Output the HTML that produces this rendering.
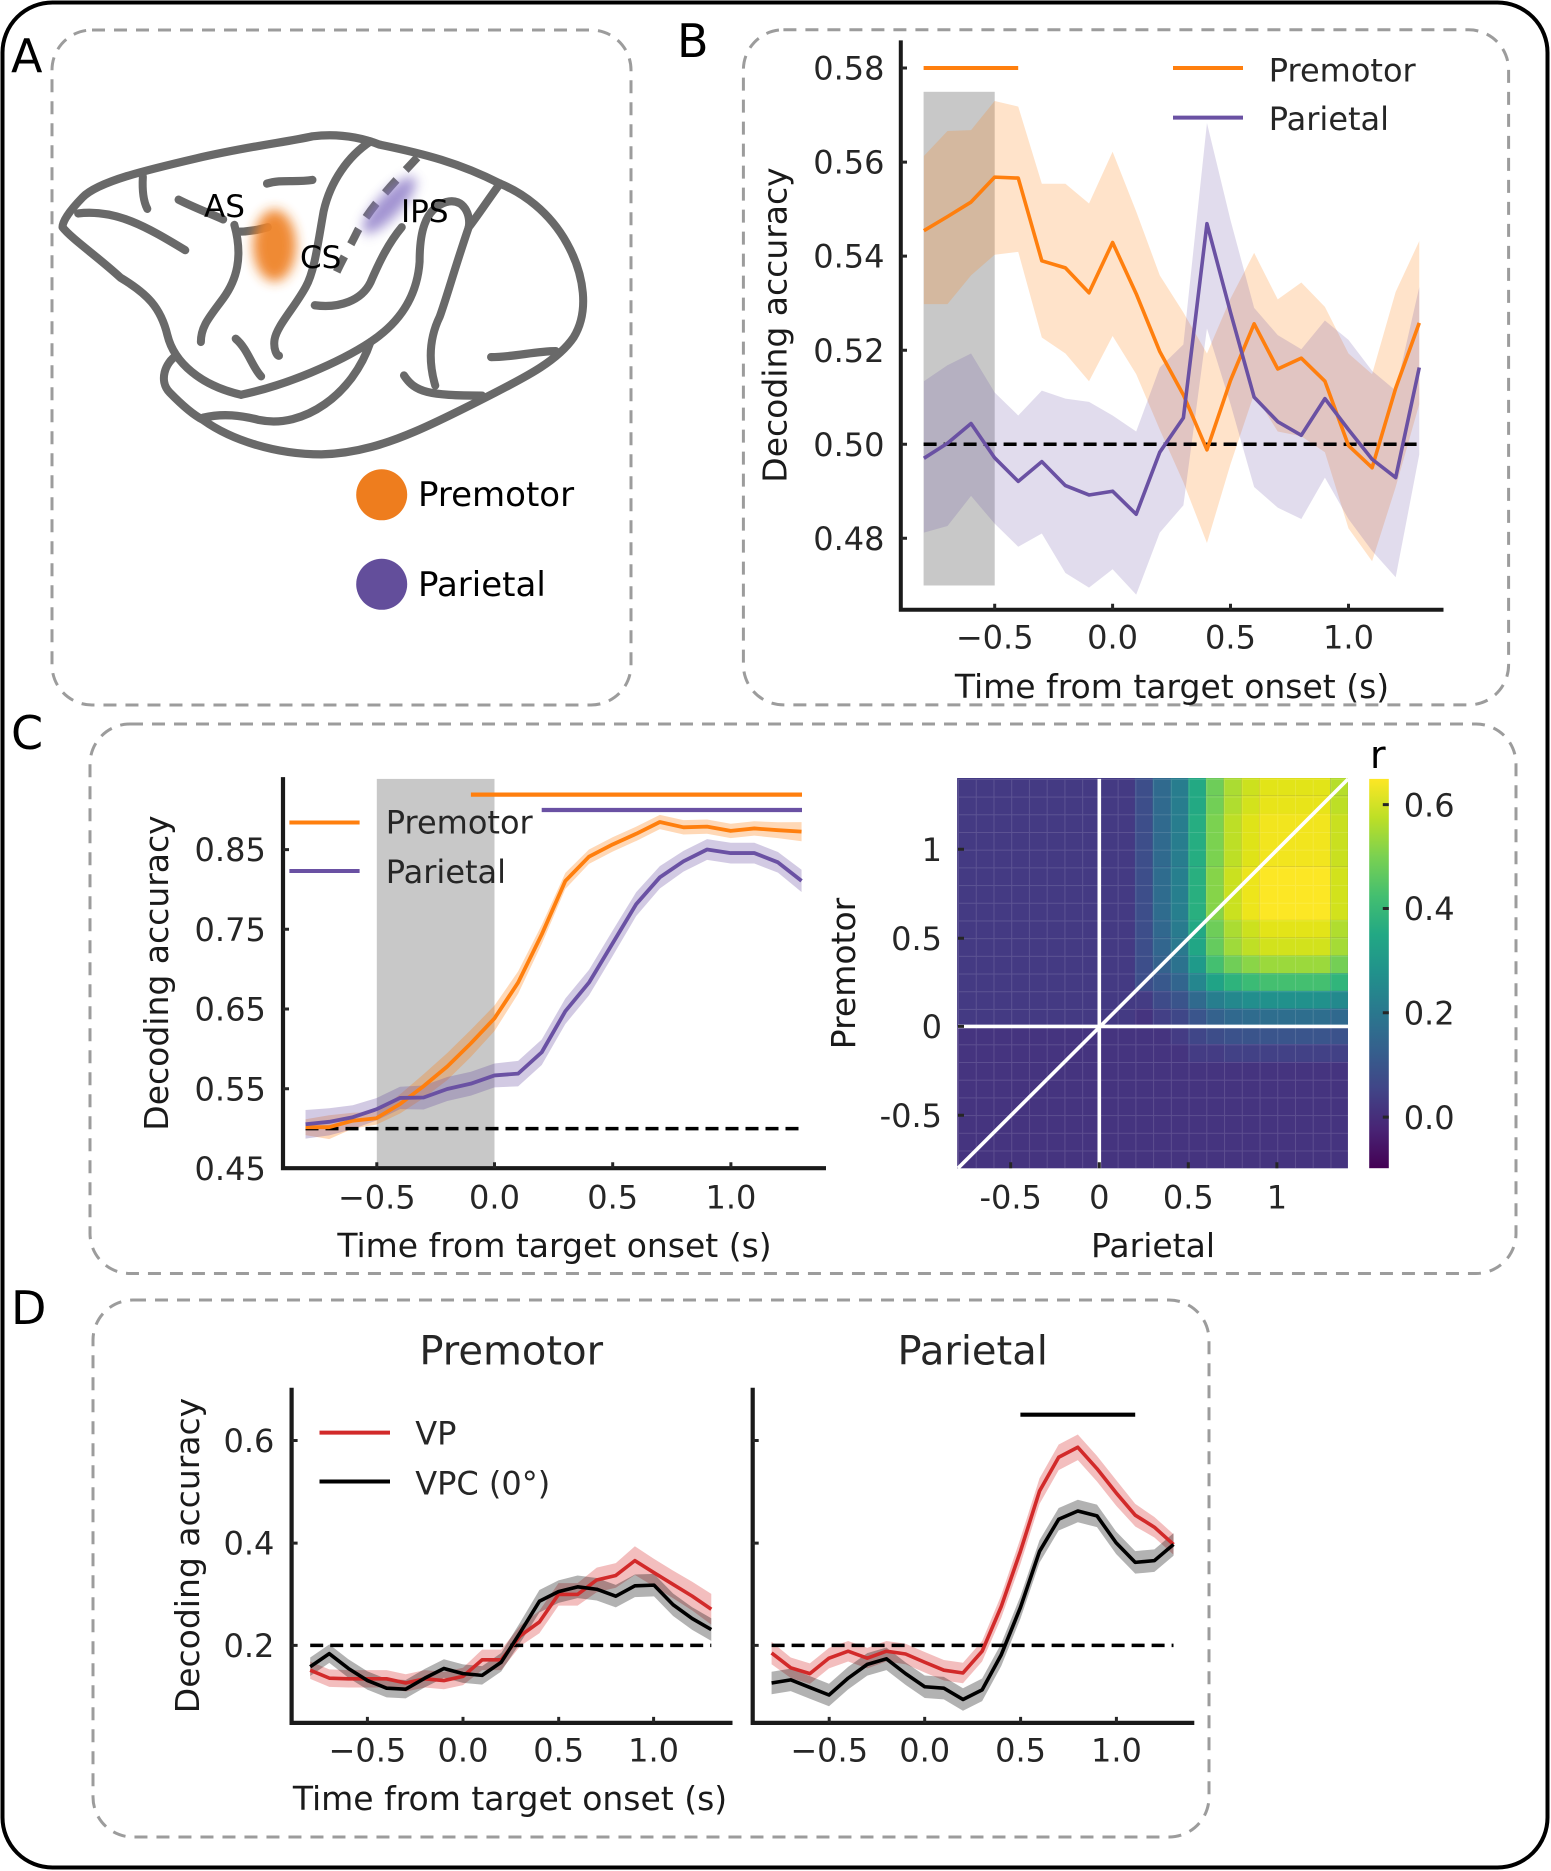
<!DOCTYPE html>
<html><head><meta charset="utf-8">
<style>
html,body{margin:0;padding:0;background:#fff;}
body{width:1551px;height:1871px;overflow:hidden;}
svg{display:block;}
text{font-family:"DejaVu Sans","Liberation Sans",sans-serif;}
.t{fill:#262626;font-size:32px;}
.lab{fill:#1a1a1a;font-size:33px;}
</style></head><body>
<svg width="1551" height="1871" viewBox="0 0 1551 1871" xmlns="http://www.w3.org/2000/svg">
<defs>
<filter id="blur" x="-60%" y="-60%" width="220%" height="220%"><feGaussianBlur stdDeviation="13"/></filter>
<linearGradient id="vir" x1="0" y1="1" x2="0" y2="0">
<stop offset="0" stop-color="#440154"/><stop offset="0.1" stop-color="#482475"/><stop offset="0.2" stop-color="#414487"/><stop offset="0.3" stop-color="#355f8d"/><stop offset="0.4" stop-color="#2a788e"/><stop offset="0.5" stop-color="#21918c"/><stop offset="0.6" stop-color="#22a884"/><stop offset="0.7" stop-color="#44bf70"/><stop offset="0.8" stop-color="#7ad151"/><stop offset="0.9" stop-color="#bddf26"/><stop offset="1" stop-color="#fde725"/>
</linearGradient>
<pattern id="grid" x="958" y="778.9" width="17.736" height="17.695" patternUnits="userSpaceOnUse"><path d="M0.5,0 V17.7 M0,0.5 H17.8" stroke="#ffffff" stroke-opacity="0.13" stroke-width="1"/></pattern>
</defs>

<!-- outer border -->
<rect x="2.5" y="2.5" width="1545" height="1865" rx="50" ry="50" fill="none" stroke="#000" stroke-width="4"/>

<!-- dashed panel boxes -->
<g fill="none" stroke="#9c9c9c" stroke-width="3" stroke-dasharray="13 9">
<rect x="52" y="30" width="579" height="675" rx="40" ry="40"/>
<rect x="743.4" y="29.8" width="765.2" height="675.1" rx="40" ry="40"/>
<rect x="90" y="724" width="1426" height="549.5" rx="40" ry="40"/>
<rect x="93" y="1300" width="1116" height="537" rx="40" ry="40"/>
</g>

<!-- panel letters -->
<g font-size="46" fill="#000">
<text x="11" y="72">A</text>
<text x="677" y="57">B</text>
<text x="11" y="749">C</text>
<text x="11" y="1324">D</text>
</g>

<!-- ============ PANEL A: brain ============ -->
<g transform="scale(0.4464,0.459)">
<g fill="none" stroke="#696969" stroke-width="18" stroke-linecap="round" stroke-linejoin="round">
<path d="M1120,400 C1030,355 950,335 850,315 C810,300 760,290 700,297 C640,310 560,318 440,345 C330,370 220,395 185,430 C160,455 140,480 140,495 C160,520 220,560 270,605 C330,640 360,670 375,730 C390,790 450,840 540,860"/>
<path d="M395,775 C370,790 355,830 380,855 C410,885 435,905 455,915 C520,960 620,990 720,990 C800,988 870,965 930,940 C990,915 1050,885 1110,855 C1180,820 1250,785 1285,735 C1320,680 1310,600 1270,530 C1230,460 1170,420 1120,400"/>
<path d="M540,860 C640,840 760,790 830,745 C900,700 935,640 940,570 C940,510 950,455 1000,440 C1040,430 1055,470 1050,495"/>
<path d="M455,910 C500,900 540,905 580,915 C680,935 790,860 830,745"/>
<path d="M1120,400 C1090,440 1070,470 1050,495 C1020,580 1000,650 985,690 C960,740 960,790 975,840"/>
<path d="M905,818 C930,855 960,862 1080,862"/>
<path d="M1100,778 C1150,778 1200,765 1245,765"/>
<path d="M830,308 C780,340 740,395 725,460 C712,530 705,590 685,625 C660,670 620,710 615,740 C612,760 620,775 625,775"/>
<path d="M525,490 C545,560 530,610 500,650 C470,690 450,710 450,745"/>
<path d="M530,505 C560,505 580,500 600,495"/>
<path d="M400,435 C430,450 470,465 500,478"/>
<path d="M175,465 C260,455 330,495 415,545"/>
<path d="M320,385 C318,420 322,440 330,455"/>
<path d="M598,400 C630,390 660,398 700,392"/>
<path d="M528,738 C555,760 565,800 585,820"/>
<path d="M705,665 C760,672 810,655 830,615 C850,570 870,530 900,495"/>
<path d="M935,343 C890,390 830,450 800,505 C780,545 755,585 745,615" stroke-dasharray="38 30" stroke-linecap="butt"/>
</g>
<ellipse cx="615" cy="535" rx="48" ry="78" fill="#ef8429" opacity="0.95" filter="url(#blur)"/>
<ellipse cx="872" cy="447" rx="82" ry="26" transform="rotate(-46 872 447)" fill="#8a78c6" opacity="0.8" filter="url(#blur)"/>
</g>
<g font-size="31" fill="#000">
<text x="204" y="217">AS</text>
<text x="300" y="268">CS</text>
<text x="401" y="222">IPS</text>
</g>
<circle cx="381.7" cy="494.8" r="25.5" fill="#ee7d1e"/>
<circle cx="381.7" cy="584.3" r="25.5" fill="#634e9b"/>
<g font-size="34" fill="#000">
<text x="418" y="506">Premotor</text>
<text x="418" y="596">Parietal</text>
</g>

<!-- ============ PANEL B ============ -->
<rect x="923.6" y="91.8" width="71.1" height="493.7" fill="#c8c8c8"/>
<g transform="translate(1112.6,444.2) scale(23.59,-4.702)">
<polygon fill="#ff7f0e" fill-opacity="0.22" points="-8,61.3 -7,66.6 -6,66.8 -5,73 -4,71.8 -3,55.4 -2,55.4 -1,51.2 0,62.2 1,49.5 2,35.9 3,28 4,19.3 5,31 6,40.7 7,30.8 8,34.4 9,29.2 10,19.3 11,14.9 12,32.4 13,43.2 13,8.5 12,-9.1 11,-24.9 10,-17.9 9,-1.7 8,1.7 7,2.7 6,10.7 5,-4.2 4,-21 3,-8.1 2,3.1 1,14.9 0,23 -1,13.4 -2,19.3 -3,22.7 -4,40.9 -5,40.3 -6,35.9 -7,29.8 -8,29.8"/>
<polygon fill="#6a51a3" fill-opacity="0.2" points="-8,13.4 -7,16.8 -6,19.3 -5,11 -4,6.1 -3,11.4 -2,9.7 -1,9 0,6.1 1,2.7 2,16.3 3,21.2 4,68.3 5,47.6 6,29 7,23.2 8,20.2 9,26.3 10,22.2 11,15.6 12,11.4 13,33.4 13,-2.2 12,-28.3 11,-22.7 10,-15.9 9,-7.1 8,-15.9 7,-13.5 6,-9.1 5,8.5 4,24.6 3,-13 2,-18.8 1,-32 0,-26.6 -1,-30.5 -2,-27.4 -3,-19 -4,-21.8 -5,-16.9 -6,-11 -7,-17.4 -8,-18.8"/>
</g>
<line x1="923.6" y1="444.2" x2="1419.3" y2="444.2" stroke="#000" stroke-width="3.5" stroke-dasharray="13 7"/>
<g transform="translate(1112.6,444.2) scale(23.59,-4.702)" fill="none" stroke-width="3.6" stroke-linejoin="round">
<polyline vector-effect="non-scaling-stroke" stroke="#ff7f0e" points="-8,45.4 -7,48.4 -6,51.5 -5,56.8 -4,56.6 -3,39 -2,37.5 -1,32.2 0,42.9 1,32 2,19.7 3,10.5 4,-1.2 5,13.6 6,25.6 7,16 8,18.3 9,13.4 10,-0.3 11,-5 12,11.9 13,25.8"/>
<polyline vector-effect="non-scaling-stroke" stroke="#6a51a3" points="-8,-3 -7,0.2 -6,4.4 -5,-2.9 -4,-7.9 -3,-3.7 -2,-8.8 -1,-10.8 0,-10 1,-14.9 2,-1.7 3,5.6 4,46.9 5,28 6,10 7,4.8 8,1.9 9,9.7 10,3.1 11,-3.2 12,-7.1 13,16.3"/>
</g>
<line x1="923.6" y1="68" x2="1018.2" y2="68" stroke="#ff7f0e" stroke-width="4"/>
<!-- legend B -->
<line x1="1173" y1="68" x2="1243" y2="68" stroke="#ff7f0e" stroke-width="4"/>
<line x1="1173" y1="117.6" x2="1243" y2="117.6" stroke="#6a51a3" stroke-width="4"/>
<text class="t" x="1268.8" y="81.7" font-size="33" fill="#333">Premotor</text>
<text class="t" x="1268.8" y="130" font-size="33" fill="#333">Parietal</text>
<!-- axes B -->
<g stroke="#1a1a1a" stroke-width="4" fill="none">
<path d="M900.8,40.4 V611.8 M898.8,609.8 H1443.5"/>
</g>
<g stroke="#262626" stroke-width="3">
<path d="M901,68 h6 M901,162.1 h6 M901,256.1 h6 M901,350.2 h6 M901,444.2 h6 M901,538.3 h6"/>
<path d="M994.7,609.8 v-6 M1112.6,609.8 v-6 M1230.5,609.8 v-6 M1348.5,609.8 v-6"/>
</g>
<g class="t" text-anchor="end">
<text x="884.5" y="79.6">0.58</text>
<text x="884.5" y="173.7">0.56</text>
<text x="884.5" y="267.7">0.54</text>
<text x="884.5" y="361.8">0.52</text>
<text x="884.5" y="455.8">0.50</text>
<text x="884.5" y="549.9">0.48</text>
</g>
<g class="t" text-anchor="middle">
<text x="994.7" y="648.4">−0.5</text>
<text x="1112.6" y="648.4">0.0</text>
<text x="1230.5" y="648.4">0.5</text>
<text x="1348.5" y="648.4">1.0</text>
</g>
<text class="lab" x="1172" y="698" text-anchor="middle">Time from target onset (s)</text>
<text class="lab" transform="translate(786.6,325) rotate(-90)" text-anchor="middle">Decoding accuracy</text>

<!-- ============ PANEL C left ============ -->
<rect x="376.8" y="778.9" width="117.7" height="389.3" fill="#c8c8c8"/>
<g transform="translate(494.5,1128.6) scale(23.62,-0.797)">
<polygon fill="#ff7f0e" fill-opacity="0.3" points="-8,11.8 -7,16.8 -6,19.9 -5,21 -4,42.9 -3,68.3 -2,94.9 -1,124 0,154.4 1,197.2 2,255.6 3,320.8 4,350.2 5,365.5 6,378.9 7,393.7 8,387 9,387.9 10,382.5 11,385.6 12,384.4 13,384.6 13,360.6 12,364.4 11,367.6 10,364.5 9,369.9 8,369 7,375.7 6,360.9 5,347.5 4,332.2 3,300.8 2,231.6 1,169.2 0,122.4 -1,90 -2,60.9 -3,38.3 -4,18.9 -5,5 -6,-0.1 -7,-13.2 -8,-8.2"/>
<polygon fill="#6a51a3" fill-opacity="0.3" points="-8,23.4 -7,25.5 -6,29.3 -5,38.2 -4,52.5 -3,54 -2,64.7 -1,71.4 0,81.7 1,85 2,111.8 3,163.3 4,199.2 5,248.4 6,296.7 7,329.3 8,348.4 9,363.2 10,358.7 11,358.7 12,347.1 13,324.8 13,296.8 12,321.1 11,332.7 10,332.7 9,337.2 8,322.4 7,301.3 6,266.7 5,216.4 4,167.2 3,131.3 2,79.8 1,53 0,51.7 -1,41.4 -2,34.7 -3,24 -4,24.5 -5,10.2 -6,-0.7 -7,-8.5 -8,-12.6"/>
</g>
<line x1="305.5" y1="1128.6" x2="801.6" y2="1128.6" stroke="#000" stroke-width="3.5" stroke-dasharray="13 7"/>
<g transform="translate(494.5,1128.6) scale(23.62,-0.797)" fill="none" stroke-linejoin="round">
<polyline vector-effect="non-scaling-stroke" stroke="#ff7f0e" stroke-width="3.8" points="-8,1.8 -7,1.8 -6,9.9 -5,13 -4,30.9 -3,53.3 -2,77.9 -1,107 0,138.4 1,183.2 2,243.6 3,310.8 4,341.2 5,356.5 6,369.9 7,384.7 8,378 9,378.9 10,373.5 11,376.6 12,374.4 13,372.6"/>
<polyline vector-effect="non-scaling-stroke" stroke="#6a51a3" stroke-width="3.8" points="-8,5.4 -7,8.5 -6,14.3 -5,24.2 -4,38.5 -3,39 -2,49.7 -1,56.4 0,66.7 1,69 2,95.8 3,147.3 4,183.2 5,232.4 6,281.7 7,315.3 8,335.4 9,350.2 10,345.7 11,345.7 12,334.1 13,310.8"/>
</g>
<line x1="470.9" y1="794.6" x2="802" y2="794.6" stroke="#ff7f0e" stroke-width="4.3"/>
<line x1="541.7" y1="810" x2="802" y2="810" stroke="#6a51a3" stroke-width="4.3"/>
<line x1="289.4" y1="822.5" x2="359.6" y2="822.5" stroke="#ff7f0e" stroke-width="4"/>
<line x1="289.4" y1="871" x2="359.6" y2="871" stroke="#6a51a3" stroke-width="4"/>
<text class="t" x="385.8" y="833.6" font-size="33" fill="#333">Premotor</text>
<text class="t" x="385.8" y="882.8" font-size="33" fill="#333">Parietal</text>
<g stroke="#1a1a1a" stroke-width="4.2" fill="none">
<path d="M283,777.1 V1170.2 M281,1168.2 H826"/>
</g>
<g stroke="#262626" stroke-width="3">
<path d="M283,849.6 h6 M283,929.3 h6 M283,1009 h6 M283,1088.7 h6"/>
<path d="M376.8,1168.2 v-6 M494.5,1168.2 v-6 M612.7,1168.2 v-6 M730.9,1168.2 v-6"/>
</g>
<g class="t" text-anchor="end">
<text x="265.8" y="861.2">0.85</text>
<text x="265.8" y="940.9">0.75</text>
<text x="265.8" y="1020.6">0.65</text>
<text x="265.8" y="1100.3">0.55</text>
<text x="265.8" y="1180">0.45</text>
</g>
<g class="t" text-anchor="middle">
<text x="376.8" y="1208.5">−0.5</text>
<text x="494.5" y="1208.5">0.0</text>
<text x="612.7" y="1208.5">0.5</text>
<text x="730.9" y="1208.5">1.0</text>
</g>
<text class="lab" x="554.5" y="1257" text-anchor="middle">Time from target onset (s)</text>
<text class="lab" transform="translate(168,973) rotate(-90)" text-anchor="middle">Decoding accuracy</text>

<!-- ============ PANEL C heatmap ============ -->
<g transform="translate(1099.3,1026.4) scale(17.76,-17.74)">
<rect x="-8" y="-8" width="22" height="22" fill="#45347f"/>
<rect x="-8" y="0" width="10" height="14" fill="#443a83"/>
<!-- C3 -->
<rect x="2" y="1" width="1" height="1" fill="#443c84"/>
<rect x="2" y="2" width="1" height="12" fill="#3d4e8a"/>
<!-- C4 -->
<rect x="3" y="0" width="1" height="1" fill="#434086"/>
<rect x="3" y="1" width="1" height="1" fill="#3e4b89"/>
<rect x="3" y="2" width="1" height="1" fill="#38588c"/>
<rect x="3" y="3" width="1" height="1" fill="#34628d"/>
<rect x="3" y="4" width="1" height="1" fill="#32668e"/>
<rect x="3" y="5" width="1" height="1" fill="#31688e"/>
<rect x="3" y="6" width="1" height="3" fill="#2f6c8e"/>
<rect x="3" y="9" width="1" height="5" fill="#306a8e"/>
<!-- C5 -->
<rect x="4" y="-1" width="1" height="1" fill="#443c84"/>
<rect x="4" y="0" width="1" height="1" fill="#3f4788"/>
<rect x="4" y="1" width="1" height="1" fill="#3a548b"/>
<rect x="4" y="2" width="1" height="1" fill="#32658e"/>
<rect x="4" y="3" width="1" height="1" fill="#2c728e"/>
<rect x="4" y="4" width="1" height="1" fill="#2a798e"/>
<rect x="4" y="5" width="1" height="1" fill="#297b8e"/>
<rect x="4" y="6" width="1" height="3" fill="#277f8e"/>
<rect x="4" y="9" width="1" height="5" fill="#287d8e"/>
<!-- C6 -->
<rect x="5" y="-2" width="1" height="1" fill="#443c84"/>
<rect x="5" y="-1" width="1" height="1" fill="#404688"/>
<rect x="5" y="0" width="1" height="1" fill="#3a558c"/>
<rect x="5" y="1" width="1" height="1" fill="#306a8e"/>
<rect x="5" y="2" width="1" height="1" fill="#25868e"/>
<rect x="5" y="3" width="1" height="1" fill="#1f9a8a"/>
<rect x="5" y="4" width="1" height="1" fill="#21a685"/>
<rect x="5" y="5" width="1" height="1" fill="#22a884"/>
<rect x="5" y="6" width="1" height="3" fill="#29af7f"/>
<rect x="5" y="9" width="1" height="3" fill="#26ad81"/>
<rect x="5" y="12" width="1" height="2" fill="#23a983"/>
<!-- C7 -->
<rect x="6" y="-2" width="1" height="1" fill="#443c84"/>
<rect x="6" y="-1" width="1" height="1" fill="#3d4d89"/>
<rect x="6" y="0" width="1" height="1" fill="#34628d"/>
<rect x="6" y="1" width="1" height="1" fill="#277e8e"/>
<rect x="6" y="2" width="1" height="1" fill="#20a386"/>
<rect x="6" y="3" width="1" height="1" fill="#44bf70"/>
<rect x="6" y="4" width="1" height="1" fill="#65cb5e"/>
<rect x="6" y="5" width="1" height="1" fill="#6ecd59"/>
<rect x="6" y="6" width="1" height="3" fill="#86d449"/>
<rect x="6" y="9" width="1" height="3" fill="#7bd250"/>
<rect x="6" y="12" width="1" height="1" fill="#72cf56"/>
<rect x="6" y="13" width="1" height="1" fill="#6ecd59"/>
<!-- C8 -->
<rect x="7" y="-2" width="1" height="1" fill="#424186"/>
<rect x="7" y="-1" width="1" height="1" fill="#3b528b"/>
<rect x="7" y="0" width="1" height="1" fill="#30698e"/>
<rect x="7" y="1" width="1" height="1" fill="#24888d"/>
<rect x="7" y="2" width="1" height="1" fill="#2eb37c"/>
<rect x="7" y="3" width="1" height="1" fill="#70ce57"/>
<rect x="7" y="4" width="1" height="1" fill="#9fda3a"/>
<rect x="7" y="5" width="1" height="1" fill="#abdc32"/>
<rect x="7" y="6" width="1" height="3" fill="#cae11f"/>
<rect x="7" y="9" width="1" height="3" fill="#bddf26"/>
<rect x="7" y="12" width="1" height="1" fill="#b0dd2f"/>
<rect x="7" y="13" width="1" height="1" fill="#abdc32"/>
<!-- C9 -->
<rect x="8" y="-2" width="1" height="1" fill="#424186"/>
<rect x="8" y="-1" width="1" height="1" fill="#3a548b"/>
<rect x="8" y="0" width="1" height="1" fill="#2f6c8e"/>
<rect x="8" y="1" width="1" height="1" fill="#228e8d"/>
<rect x="8" y="2" width="1" height="1" fill="#3bbb75"/>
<rect x="8" y="3" width="1" height="1" fill="#8ad547"/>
<rect x="8" y="4" width="1" height="1" fill="#bfdf25"/>
<rect x="8" y="5" width="1" height="1" fill="#cce11e"/>
<rect x="8" y="6" width="1" height="3" fill="#ede51b"/>
<rect x="8" y="9" width="1" height="3" fill="#dfe318"/>
<rect x="8" y="12" width="1" height="1" fill="#d3e21c"/>
<rect x="8" y="13" width="1" height="1" fill="#cce11e"/>
<!-- C10 -->
<rect x="9" y="-2" width="4" height="1" fill="#424186"/>
<rect x="9" y="-1" width="4" height="1" fill="#3a558c"/>
<rect x="9" y="0" width="4" height="1" fill="#2e6e8e"/>
<rect x="9" y="1" width="4" height="1" fill="#21918c"/>
<rect x="9" y="2" width="4" height="1" fill="#44bf70"/>
<rect x="9" y="3" width="4" height="1" fill="#9bd93c"/>
<rect x="9" y="4" width="4" height="1" fill="#d2e21c"/>
<rect x="9" y="5" width="4" height="1" fill="#e3e418"/>
<rect x="9" y="6" width="4" height="3" fill="#fce725"/>
<rect x="9" y="9" width="4" height="3" fill="#f2e51e"/>
<rect x="9" y="12" width="4" height="1" fill="#e8e419"/>
<rect x="9" y="13" width="4" height="1" fill="#e2e418"/>
<!-- C11 -->
<rect x="13" y="-2" width="1" height="1" fill="#424186"/>
<rect x="13" y="-1" width="1" height="1" fill="#3b528b"/>
<rect x="13" y="0" width="1" height="1" fill="#30698e"/>
<rect x="13" y="1" width="1" height="1" fill="#23898d"/>
<rect x="13" y="2" width="1" height="1" fill="#31b57b"/>
<rect x="13" y="3" width="1" height="1" fill="#74cf55"/>
<rect x="13" y="4" width="1" height="1" fill="#a5db36"/>
<rect x="13" y="5" width="1" height="1" fill="#b0dd2f"/>
<rect x="13" y="6" width="1" height="3" fill="#d2e21c"/>
<rect x="13" y="9" width="1" height="3" fill="#c9e020"/>
<rect x="13" y="12" width="1" height="1" fill="#bddf26"/>
<rect x="13" y="13" width="1" height="1" fill="#b6de2b"/>
</g>
<rect x="958" y="778.9" width="390.2" height="389.3" fill="url(#grid)"/>
<g stroke="#ffffff" stroke-width="3.6">
<line x1="1099.3" y1="778.9" x2="1099.3" y2="1168.2"/>
<line x1="958" y1="1026.4" x2="1348.2" y2="1026.4"/>
<line x1="958" y1="1168.2" x2="1348.2" y2="778.9"/>
</g>
<g stroke="#262626" stroke-width="3">
<path d="M958,849.3 h6 M958,938.2 h6 M958,1026.4 h6 M958,1115.3 h6"/>
<path d="M1010.7,1168.2 v-6 M1099.3,1168.2 v-6 M1188.3,1168.2 v-6 M1276.9,1168.2 v-6"/>
</g>
<g class="t" text-anchor="end">
<text x="942" y="860.9">1</text>
<text x="942" y="949.8">0.5</text>
<text x="942" y="1038">0</text>
<text x="942" y="1126.9">-0.5</text>
</g>
<g class="t" text-anchor="middle">
<text x="1010.7" y="1208.5">-0.5</text>
<text x="1099.3" y="1208.5">0</text>
<text x="1188.3" y="1208.5">0.5</text>
<text x="1276.9" y="1208.5">1</text>
</g>
<text class="lab" x="1153" y="1257" text-anchor="middle">Parietal</text>
<text class="lab" transform="translate(855,973.5) rotate(-90)" text-anchor="middle">Premotor</text>
<!-- colorbar -->
<rect x="1369.2" y="778.9" width="19.6" height="389.3" fill="url(#vir)"/>
<g stroke="#262626" stroke-width="3">
<path d="M1388.8,804.6 h-6 M1388.8,908.5 h-6 M1388.8,1012.8 h-6 M1388.8,1117.1 h-6"/>
</g>
<g class="t">
<text x="1403.7" y="816.3">0.6</text>
<text x="1403.7" y="920.2">0.4</text>
<text x="1403.7" y="1024.5">0.2</text>
<text x="1403.7" y="1128.8">0.0</text>
</g>
<text x="1370" y="768" font-size="38" fill="#000">r</text>

<!-- ============ PANEL D ============ -->
<text x="511.2" y="1364.4" font-size="40" fill="#262626" text-anchor="middle">Premotor</text>
<text x="972.7" y="1364.4" font-size="40" fill="#262626" text-anchor="middle">Parietal</text>

<!-- D premotor -->
<g transform="translate(463,1645.4) scale(19.1,-0.5125)">
<polygon fill="#d62728" fill-opacity="0.3" points="-8,-31.4 -7,-46.9 -6,-48.2 -5,-48.2 -4,-48.2 -3,-56.3 -2,-48.2 -1,-51.6 0,-43.5 1,-8.2 2,-8.2 3,38.8 4,67.7 5,121.5 6,121.5 7,151.7 8,160.5 9,193.4 10,168.9 11,146 12,124.1 13,100.6 13,40.6 12,68.1 11,92 10,114.9 9,137.4 8,112.5 7,103.7 6,77.5 5,77.5 4,23.7 3,-1.2 2,-48.2 1,-48.2 0,-77.5 -1,-85.6 -2,-82.2 -3,-90.3 -4,-82.2 -5,-82.2 -6,-82.2 -7,-80.9 -8,-65.4"/>
<polygon fill="#000" fill-opacity="0.3" points="-8,-23.7 -7,1.9 -6,-27 -5,-50.6 -4,-65.4 -3,-67.4 -2,-45.9 -1,-27 0,-37.1 1,-40.5 2,-14.9 3,45.5 4,108.1 5,126.9 6,136.3 7,131.6 8,118.1 9,138.3 10,139.6 11,101.3 12,74.4 13,52.9 13,8.9 12,30.4 11,57.3 10,95.6 9,94.3 8,74.1 7,87.6 6,92.3 5,82.9 4,64.1 3,5.5 2,-50.9 1,-76.5 0,-73.1 -1,-63 -2,-81.9 -3,-103.4 -4,-101.4 -5,-86.6 -6,-63 -7,-34.1 -8,-59.7"/>
</g>
<line x1="310.2" y1="1645.4" x2="711.3" y2="1645.4" stroke="#000" stroke-width="3.5" stroke-dasharray="13 7"/>
<g transform="translate(463,1645.4) scale(19.1,-0.5125)" fill="none" stroke-linejoin="round">
<polyline vector-effect="non-scaling-stroke" stroke="#d22a2a" stroke-width="3.6" points="-8,-48.4 -7,-63.9 -6,-65.2 -5,-65.2 -4,-65.2 -3,-73.3 -2,-65.2 -1,-68.6 0,-60.5 1,-28.2 2,-28.2 3,18.8 4,45.7 5,99.5 6,99.5 7,127.7 8,136.5 9,165.4 10,141.9 11,119 12,96.1 13,70.6"/>
<polyline vector-effect="non-scaling-stroke" stroke="#000" stroke-width="3.6" points="-8,-41.7 -7,-16.1 -6,-45 -5,-68.6 -4,-83.4 -3,-85.4 -2,-63.9 -1,-45 0,-55.1 1,-58.5 2,-32.9 3,25.5 4,86.1 5,104.9 6,114.3 7,109.6 8,96.1 9,116.3 10,117.6 11,79.3 12,52.4 13,30.9"/>
</g>
<line x1="319.5" y1="1432.6" x2="390" y2="1432.6" stroke="#d22a2a" stroke-width="4"/>
<line x1="319.5" y1="1481.5" x2="390" y2="1481.5" stroke="#000" stroke-width="4"/>
<text class="t" x="415.2" y="1444.6" font-size="33" fill="#1a1a1a">VP</text>
<text class="t" x="415.2" y="1494.6" font-size="33" fill="#1a1a1a">VPC (0°)</text>
<g stroke="#1a1a1a" stroke-width="4.2" fill="none">
<path d="M291.6,1387.8 V1724.9 M289.6,1722.9 H732.5"/>
<path d="M752.7,1387.8 V1724.9 M750.7,1722.9 H1194.3"/>
</g>
<g stroke="#262626" stroke-width="3">
<path d="M291.6,1440.5 h6 M291.6,1543.1 h6 M291.6,1645.4 h6"/>
<path d="M367.4,1722.9 v-6 M463,1722.9 v-6 M558.7,1722.9 v-6 M653.6,1722.9 v-6"/>
<path d="M752.7,1440.5 h6 M752.7,1543.1 h6 M752.7,1645.4 h6"/>
<path d="M829.2,1722.9 v-6 M924.7,1722.9 v-6 M1020.6,1722.9 v-6 M1116.4,1722.9 v-6"/>
</g>
<g class="t" text-anchor="end">
<text x="274.4" y="1452.1">0.6</text>
<text x="274.4" y="1554.7">0.4</text>
<text x="274.4" y="1657">0.2</text>
</g>
<g class="t" text-anchor="middle">
<text x="367.4" y="1761.5">−0.5</text>
<text x="463" y="1761.5">0.0</text>
<text x="558.7" y="1761.5">0.5</text>
<text x="653.6" y="1761.5">1.0</text>
<text x="829.2" y="1761.5">−0.5</text>
<text x="924.7" y="1761.5">0.0</text>
<text x="1020.6" y="1761.5">0.5</text>
<text x="1116.4" y="1761.5">1.0</text>
</g>
<text class="lab" x="510" y="1810" text-anchor="middle">Time from target onset (s)</text>
<text class="lab" transform="translate(198.8,1555.5) rotate(-90)" text-anchor="middle">Decoding accuracy</text>

<!-- D parietal -->
<g transform="translate(924.7,1645.4) scale(19.14,-0.5125)">
<polygon fill="#d62728" fill-opacity="0.3" points="-8,7.2 -7,-23.7 -6,-35.1 -5,-4.9 -4,8.6 -3,-4.9 -2,8.6 -1,3.2 0,-12.9 1,-28.4 2,-33.8 3,8.6 4,98 5,208.5 6,326.2 7,392.1 8,411.6 9,369.9 10,322.8 11,276.1 12,250.6 13,217 13,177 12,210.6 11,232.1 10,272.8 9,319.9 8,361.6 7,342.1 6,276.2 5,158.5 4,54 3,-31.4 2,-73.8 1,-68.4 0,-52.9 -1,-36.8 -2,-31.4 -3,-44.9 -4,-31.4 -5,-44.9 -6,-75.1 -7,-63.7 -8,-36.8"/>
<polygon fill="#000" fill-opacity="0.3" points="-8,-51.3 -7,-45.2 -6,-60 -5,-74.8 -4,-41.9 -3,-15 -2,-4.2 -1,-33.1 0,-58.7 1,-61.4 2,-83.5 3,-64.7 4,3.8 5,95.9 6,205.5 7,268.1 8,284.2 9,274.8 10,222.3 11,184 12,187.4 13,219 13,175 12,143.4 11,140 10,178.3 9,230.8 8,240.2 7,224.1 6,161.5 5,51.9 4,-40.2 3,-108.7 2,-127.5 1,-105.4 0,-102.7 -1,-77.1 -2,-48.2 -3,-59 -4,-85.9 -5,-118.8 -6,-104 -7,-89.2 -8,-95.3"/>
</g>
<line x1="771.6" y1="1645.4" x2="1173.5" y2="1645.4" stroke="#000" stroke-width="3.5" stroke-dasharray="13 7"/>
<g transform="translate(924.7,1645.4) scale(19.14,-0.5125)" fill="none" stroke-linejoin="round">
<polyline vector-effect="non-scaling-stroke" stroke="#d22a2a" stroke-width="3.6" points="-8,-14.8 -7,-43.7 -6,-55.1 -5,-24.9 -4,-11.4 -3,-24.9 -2,-11.4 -1,-16.8 0,-32.9 1,-48.4 2,-53.8 3,-11.4 4,76 5,183.5 6,301.2 7,367.1 8,386.6 9,344.9 10,297.8 11,254.1 12,230.6 13,197"/>
<polyline vector-effect="non-scaling-stroke" stroke="#000" stroke-width="3.6" points="-8,-73.3 -7,-67.2 -6,-82 -5,-96.8 -4,-63.9 -3,-37 -2,-26.2 -1,-55.1 0,-80.7 1,-83.4 2,-105.5 3,-86.7 4,-18.2 5,73.9 6,183.5 7,246.1 8,262.2 9,252.8 10,200.3 11,162 12,165.4 13,197"/>
</g>
<line x1="1020.4" y1="1414.7" x2="1135.2" y2="1414.7" stroke="#000" stroke-width="4.2"/>
</svg>
</body></html>
